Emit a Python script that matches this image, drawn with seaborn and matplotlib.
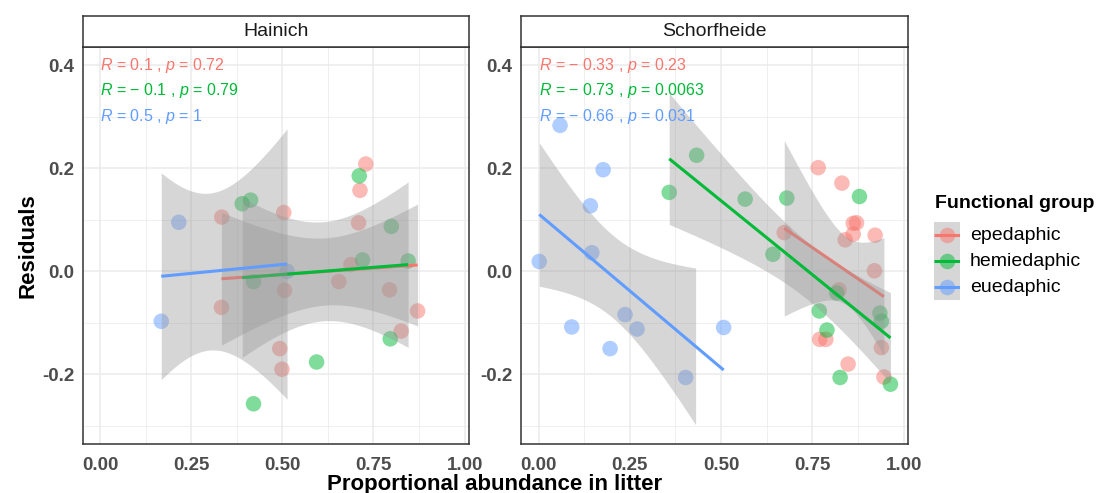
import numpy as np
import pandas as pd
import matplotlib
matplotlib.use("Agg")
import matplotlib.pyplot as plt
import seaborn as sns

# ---------------------------------------------------------------- data
sites = ["Hainich", "Schorfheide"]
groups = ["epedaphic", "hemiedaphic", "euedaphic"]
palette = {"epedaphic": "#F8766D", "hemiedaphic": "#00BA38", "euedaphic": "#619CFF"}

# Hainich
hai_epe_x = [0.334, 0.504, 0.729, 0.713, 0.709, 0.333, 0.506, 0.493, 0.499, 0.655, 0.688, 0.794, 0.871, 0.826]
hai_epe_y = [0.105, 0.114, 0.208, 0.157, 0.094, -0.070, -0.037, -0.150, -0.190, -0.020, 0.013, -0.036, -0.077, -0.116]
hai_hemi_x = [0.390, 0.413, 0.799, 0.421, 0.594, 0.421, 0.720, 0.845, 0.796, 0.711]
hai_hemi_y = [0.131, 0.138, 0.087, -0.020, -0.176, -0.257, 0.022, 0.020, -0.131, 0.185]
hai_eu_x = [0.216, 0.168, 0.513]
hai_eu_y = [0.095, -0.097, 0.000]

# Schorfheide
sch_epe_x = [0.766, 0.831, 0.862, 0.871, 0.862, 0.840, 0.922, 0.673, 0.920, 0.823, 0.770, 0.787, 0.848, 0.939, 0.946]
sch_epe_y = [0.201, 0.171, 0.093, 0.094, 0.072, 0.061, 0.070, 0.075, 0.001, -0.036, -0.132, -0.132, -0.180, -0.148, -0.205]
sch_hemi_x = [0.358, 0.433, 0.566, 0.680, 0.879, 0.642, 0.817, 0.769, 0.790, 0.935, 0.939, 0.826, 0.964]
sch_hemi_y = [0.153, 0.225, 0.140, 0.142, 0.145, 0.033, -0.042, -0.077, -0.114, -0.081, -0.097, -0.206, -0.219]
sch_eu_x = [0.059, 0.177, 0.142, 0.146, 0.002, 0.091, 0.196, 0.237, 0.270, 0.403, 0.507]
sch_eu_y = [0.283, 0.197, 0.127, 0.036, 0.019, -0.108, -0.150, -0.084, -0.112, -0.206, -0.109]

# correlation labels (R, p) per site and group
cor_R = {"Hainich": ["0.1", "\u2212 0.1", "0.5"],
         "Schorfheide": ["\u2212 0.33", "\u2212 0.73", "\u2212 0.66"]}
cor_p = {"Hainich": ["0.72", "0.79", "1"],
         "Schorfheide": ["0.23", "0.0063", "0.031"]}

x_ticks = [0.0, 0.25, 0.5, 0.75, 1.0]
x_tick_labels = ["0.00", "0.25", "0.50", "0.75", "1.00"]
y_ticks = [-0.2, 0.0, 0.2, 0.4]
y_tick_labels = ["-0.2", "0.0", "0.2", "0.4"]
y_limits = (-0.3, 0.4)

series = {
    ("Hainich", "epedaphic"): (hai_epe_x, hai_epe_y),
    ("Hainich", "hemiedaphic"): (hai_hemi_x, hai_hemi_y),
    ("Hainich", "euedaphic"): (hai_eu_x, hai_eu_y),
    ("Schorfheide", "epedaphic"): (sch_epe_x, sch_epe_y),
    ("Schorfheide", "hemiedaphic"): (sch_hemi_x, sch_hemi_y),
    ("Schorfheide", "euedaphic"): (sch_eu_x, sch_eu_y),
}
rows = []
for (site, grp), (xs, ys) in series.items():
    for xv, yv in zip(xs, ys):
        rows.append({"site": site, "group": grp, "abundance": xv, "residual": yv})
df = pd.DataFrame(rows)

# ---------------------------------------------------------------- style
sns.set_style("white")
plt.rcParams["font.family"] = ["Liberation Sans", "DejaVu Sans"]
plt.rcParams["mathtext.fontset"] = "custom"
plt.rcParams["mathtext.rm"] = "Liberation Sans"
plt.rcParams["mathtext.it"] = "Liberation Sans:italic"

W, H = 1099, 493
fig = plt.figure(figsize=(W / 100, H / 100), dpi=100)
fig.patch.set_facecolor("white")


def fx(px):
    return px / W


def fy(py):
    return (H - py) / H


panel_x = [(82.5, 469.0), (521.0, 908.0)]
panel_top, panel_bot = 47.0, 444.0
strip_top = 15.5

Z95 = 1.959964
BAND = "#999999"
POINT_SIZE = 125
LINE_W = 2.2
FRAME = "#333333"

for k, site in enumerate(sites):
    x0, x1 = panel_x[k]
    ax = fig.add_axes([fx(x0), fy(panel_bot), fx(x1) - fx(x0), fy(panel_top) - fy(panel_bot)])
    sub = df[df.site == site]

    sns.scatterplot(data=sub, x="abundance", y="residual", hue="group",
                    hue_order=groups, palette=palette, s=POINT_SIZE, alpha=0.5,
                    linewidth=0, legend=False, ax=ax, zorder=2)

    for i, g in enumerate(groups):
        gd = sub[sub.group == g]
        x = gd.abundance.to_numpy()
        y = gd.residual.to_numpy()
        n = len(x)
        grid = np.linspace(x.min(), x.max(), 80)
        b1, b0 = np.polyfit(x, y, 1)
        fit = b0 + b1 * grid
        s = np.sqrt(np.sum((y - (b0 + b1 * x)) ** 2) / (n - 2))
        se = s * np.sqrt(1 / n + (grid - x.mean()) ** 2 / np.sum((x - x.mean()) ** 2))
        lo, hi = fit - Z95 * se, fit + Z95 * se
        # band segments falling outside the y scale limits are dropped
        keep = (lo >= y_limits[0]) & (hi <= y_limits[1])
        ax.fill_between(grid, lo, hi, where=keep, color=BAND, alpha=0.4,
                        linewidth=0, zorder=3 + 2 * i)
        sns.regplot(x=x, y=y, scatter=False, ci=None, truncate=True, ax=ax,
                    color=palette[g],
                    line_kws=dict(lw=LINE_W, zorder=4 + 2 * i, solid_capstyle="butt"))

        ax.text(0.0, 0.40 - 0.05 * i,
                f"$\\mathit{{R}}$ = {cor_R[site][i]} , $\\mathit{{p}}$ = {cor_p[site][i]}",
                color=palette[g], fontsize=11.5, ha="left", va="center", zorder=20)

    pad = 0.05 * (y_limits[1] - y_limits[0])
    ax.set_xlim(-0.048, 1.012)
    ax.set_ylim(y_limits[0] - pad, y_limits[1] + pad)
    ax.set_xticks(x_ticks)
    ax.set_xticklabels(x_tick_labels, fontweight="bold")
    ax.set_yticks(y_ticks)
    ax.set_yticklabels(y_tick_labels, fontweight="bold")
    ax.set_xticks([0.125, 0.375, 0.625, 0.875], minor=True)
    ax.set_yticks([-0.3, -0.1, 0.1, 0.3], minor=True)
    ax.tick_params(which="major", length=4, width=1, color=FRAME,
                   labelcolor="#4D4D4D", labelsize=13.5)
    ax.tick_params(axis="x", which="major", pad=5)
    ax.tick_params(axis="y", which="major", pad=2)
    ax.tick_params(which="minor", length=0)
    ax.grid(which="major", color="#EBEBEB", lw=1.1)
    ax.grid(which="minor", color="#EBEBEB", lw=0.55)
    ax.set_axisbelow(True)
    ax.set_xlabel("")
    ax.set_ylabel("")
    for sp in ax.spines.values():
        sp.set_color(FRAME)
        sp.set_linewidth(1.1)

    # facet strip
    sax = fig.add_axes([fx(x0), fy(panel_top), fx(x1) - fx(x0), fy(strip_top) - fy(panel_top)])
    sax.set_facecolor("white")
    sax.set_xticks([])
    sax.set_yticks([])
    for sp in sax.spines.values():
        sp.set_color(FRAME)
        sp.set_linewidth(1.1)
    sax.text(0.5, 0.5, site, ha="center", va="center", fontsize=14, color="#1A1A1A",
             transform=sax.transAxes)

# axis titles
fig.text(fx(495), fy(490), "Proportional abundance in litter", ha="center",
         va="baseline", fontsize=16, fontweight="bold", color="black")
fig.text(fx(28), fy(245.5), "Residuals", ha="center", va="center", rotation=90,
         fontsize=16, fontweight="bold", color="black")

# legend: title, key column (band + line + point) and labels
fig.text(fx(935), fy(203), "Functional group", ha="left", va="center",
         fontsize=14, fontweight="bold", color="black")
key_left, key_right, key_top, key_h = 934.0, 960.0, 222.0, 26.0
lax = fig.add_axes([fx(key_left), fy(key_top + key_h * len(groups)),
                    fx(key_right) - fx(key_left), fy(key_top) - fy(key_top + key_h * len(groups))])
lax.set_xlim(0, 1)
lax.set_ylim(len(groups), 0)
lax.axis("off")
for i, g in enumerate(groups):
    lax.fill_between([0, 1], i, i + 1, color=BAND, alpha=0.4, linewidth=0)
    lax.plot([0, 1], [i + 0.5, i + 0.5], color=palette[g], lw=LINE_W,
             solid_capstyle="butt", zorder=3)
    lax.scatter([0.5], [i + 0.5], s=POINT_SIZE, color=palette[g], alpha=0.5,
                linewidth=0, zorder=2, clip_on=False)
    fig.text(fx(970), fy(key_top + key_h * (i + 0.5)), g, ha="left", va="center",
             fontsize=14, color="black")

fig.savefig("out.png", dpi=100, facecolor="white")
